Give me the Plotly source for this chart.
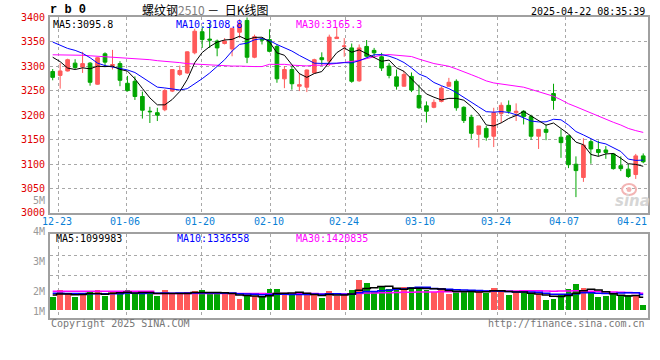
import plotly.graph_objects as go
import pandas as pd

# ---------------- data ----------------
dates = ["12-20", "12-23", "12-24", "12-25", "12-26", "12-27", "12-30", "12-31",
         "01-02", "01-03", "01-06", "01-07", "01-08", "01-09", "01-10", "01-13",
         "01-14", "01-15", "01-16", "01-17", "01-20", "01-21", "01-22", "01-23",
         "01-24", "01-27", "02-05", "02-06", "02-07", "02-10", "02-11", "02-12",
         "02-13", "02-14", "02-17", "02-18", "02-19", "02-20", "02-21", "02-24",
         "02-25", "02-26", "02-27", "02-28", "03-03", "03-04", "03-05", "03-06",
         "03-07", "03-10", "03-11", "03-12", "03-13", "03-14", "03-17", "03-18",
         "03-19", "03-20", "03-21", "03-24", "03-25", "03-26", "03-27", "03-28",
         "03-31", "04-01", "04-02", "04-03", "04-07", "04-08", "04-09", "04-10",
         "04-11", "04-14", "04-15", "04-16", "04-17", "04-18", "04-21", "04-22"]

opens = [3289, 3281, 3290, 3306, 3298, 3306, 3263, 3325, 3301, 3305,
         3265, 3269, 3238, 3208, 3205, 3211, 3249, 3283, 3286, 3327,
         3370, 3355, 3351, 3346, 3335, 3369, 3393, 3318, 3355, 3354,
         3340, 3274, 3293, 3259, 3257, 3286, 3317, 3310, 3356, 3340,
         3337, 3270, 3340, 3332, 3319, 3300, 3278, 3259, 3279, 3240,
         3219, 3216, 3228, 3259, 3269, 3216, 3196, 3161, 3173, 3157,
         3203, 3220, 3205, 3208, 3197, 3157, 3171, 3244, 3155, 3158,
         3100, 3073, 3146, 3130, 3129, 3121, 3097, 3090, 3079, 3117]
highs = [3294, 3306, 3315, 3314, 3329, 3308, 3318, 3328, 3333, 3310,
         3280, 3279, 3248, 3217, 3215, 3253, 3294, 3301, 3330, 3376,
         3381, 3388, 3354, 3357, 3377, 3395, 3399, 3364, 3357, 3375,
         3344, 3300, 3300, 3286, 3293, 3315, 3328, 3364, 3378, 3357,
         3346, 3344, 3353, 3337, 3327, 3306, 3293, 3290, 3287, 3262,
         3228, 3232, 3259, 3276, 3273, 3218, 3201, 3178, 3178, 3215,
         3226, 3230, 3224, 3210, 3201, 3171, 3181, 3264, 3171, 3158,
         3116, 3153, 3150, 3148, 3137, 3123, 3116, 3100, 3121, 3122]
lows = [3271, 3254, 3289, 3294, 3286, 3260, 3262, 3299, 3293, 3259,
        3248, 3231, 3193, 3184, 3188, 3208, 3247, 3280, 3284, 3324,
        3337, 3337, 3320, 3344, 3320, 3357, 3306, 3316, 3344, 3328,
        3266, 3255, 3252, 3249, 3247, 3285, 3301, 3300, 3356, 3319,
        3266, 3268, 3318, 3317, 3290, 3275, 3252, 3258, 3247, 3213,
        3185, 3214, 3226, 3258, 3209, 3184, 3152, 3134, 3148, 3135,
        3184, 3203, 3188, 3181, 3150, 3131, 3149, 3211, 3113, 3092,
        3033, 3064, 3101, 3116, 3111, 3089, 3086, 3072, 3070, 3102]
closes = [3277, 3290, 3313, 3297, 3305, 3267, 3317, 3308, 3303, 3271,
          3250, 3238, 3210, 3207, 3200, 3250, 3293, 3291, 3329, 3371,
          3354, 3353, 3337, 3351, 3377, 3386, 3318, 3360, 3353, 3330,
          3274, 3293, 3264, 3262, 3292, 3313, 3313, 3359, 3359, 3341,
          3269, 3337, 3320, 3327, 3296, 3281, 3259, 3283, 3251, 3215,
          3208, 3226, 3255, 3267, 3215, 3189, 3163, 3178, 3155, 3205,
          3220, 3208, 3208, 3197, 3157, 3171, 3165, 3230, 3144, 3099,
          3087, 3139, 3131, 3124, 3124, 3091, 3091, 3075, 3117, 3105]
volumes = [1072000, 1636000, 1427000, 1072000, 1346000, 1475000, 1636000, 1153000, 1475000, 1531000,
           1636000, 1346000, 1346000, 1475000, 1153000, 1636000, 1346000, 1346000, 1475000, 1556000,
           1636000, 1346000, 1346000, 1346000, 1346000, 943000, 1153000, 1153000, 1072000, 1773000,
           1773000, 1346000, 1209000, 1346000, 1370000, 1290000, 967000, 1556000, 1153000, 1370000,
           1693000, 2499000, 2257000, 1475000, 1910000, 1773000, 1636000, 1910000, 1910000, 1910000,
           1636000, 1531000, 1854000, 1290000, 1531000, 1531000, 1531000, 1693000, 1427000, 1854000,
           1612000, 1209000, 1427000, 1427000, 1427000, 1290000, 830000, 887000, 1370000, 1773000,
           2176000, 1854000, 1475000, 1072000, 1128000, 1300000, 1250000, 1250000, 1250000, 450000]

ma5_head = [3318, 3309, 3296, 3293]
ma10_head = [3349, 3343, 3336, 3332, 3326, 3317, 3306, 3301, 3298]
ma30_head = [3323, 3323, 3322, 3322, 3322, 3321, 3320, 3320, 3319, 3318,
             3317, 3316, 3315, 3313, 3311, 3310, 3309, 3307, 3305, 3304,
             3303, 3302, 3301, 3301, 3300, 3300, 3299, 3299, 3299]
vma5_head = [1280000, 1350000, 1350000, 1300000]
vma10_head = [1420000, 1420000, 1400000, 1400000, 1390000, 1380000, 1380000, 1370000, 1370000]
vma30_head = [1570000] * 14 + [1400000] * 15

tick_dates = ["12-23", "01-06", "01-20", "02-10", "02-24", "03-10", "03-24", "04-07", "04-21"]
price_ticks = [3400, 3350, 3300, 3250, 3200, 3150, 3100, 3050, 3000]
vol_labels = ["4M", "3M", "2M", "1M"]

ma_labels = ["MA5:3095.8", "MA10:3108.8", "MA30:3165.3"]
vma_labels = ["MA5:1099983", "MA10:1336558", "MA30:1420835"]

# ---------------- derived ----------------
n = len(closes)
idx = list(range(n))
cs = pd.Series(closes, dtype=float)
vs = pd.Series(volumes, dtype=float)


def with_head(series, win, head):
    m = series.rolling(win).mean()
    for i, v in enumerate(head):
        m.iloc[i] = v
    return m


ma5 = with_head(cs, 5, ma5_head)
ma10 = with_head(cs, 10, ma10_head)
ma30 = with_head(cs, 30, ma30_head)
vma5 = with_head(vs, 5, vma5_head)
vma10 = with_head(vs, 10, vma10_head)
vma30 = with_head(vs, 30, vma30_head)

RED = "#ff5a5a"
GREEN = "#00a600"
GRID = "#a8a8a8"
AXIS = "#a0a0a0"
vol_colors = [RED if c > o else GREEN for o, c in zip(opens, closes)]

# ---------------- geometry ----------------
W, H = 660, 360
ML, MR, MT, MB = 50, 10, 17, 42
PW, PH = W - ML - MR, H - MT - MB


def fx(px):
    return (px - ML) / PW


def fy(py):
    return (H - MB - py) / PH


# candle i centre at pixel 52.7 + 7.5*i
x0 = -(52.7 - ML) / 7.5
x_range = [x0, x0 + PW / 7.5]
tick_pos = [dates.index(d) for d in tick_dates]
grid_u = [(50.5 + 7.6 * k - 52.7) / 7.5 for k in tick_pos[:-1]]

price_dom = [fy(213.3), 1.0]
vol_dom = [0.0, fy(234.3)]
VPX = 12.4 / 1e6  # pixels per lot
vol_range = [-(318.3 - 311) / VPX, (311 - 234.3) / VPX]
vgrid = [(311 - 256) / VPX, (311 - 276) / VPX]

fig = go.Figure()
fig.add_trace(go.Candlestick(
    x=idx, open=opens, high=highs, low=lows, close=closes,
    increasing=dict(line=dict(color=RED, width=1), fillcolor=RED),
    decreasing=dict(line=dict(color=GREEN, width=1), fillcolor=GREEN),
    whiskerwidth=0, xaxis="x", yaxis="y", showlegend=False, hoverinfo="skip"))
for m, col in [(ma30, "#ff00ff"), (ma10, "#0000ff"), (ma5, "#000000")]:
    fig.add_trace(go.Scatter(x=idx, y=m, mode="lines", line=dict(color=col, width=1),
                             xaxis="x", yaxis="y", showlegend=False, hoverinfo="skip"))

fig.add_trace(go.Bar(x=idx, y=volumes, marker=dict(color=vol_colors, line=dict(width=0)),
                     width=0.78, xaxis="x2", yaxis="y2", showlegend=False, hoverinfo="skip"))
for m, col in [(vma30, "#ff00ff"), (vma10, "#0000ff"), (vma5, "#000000")]:
    fig.add_trace(go.Scatter(x=idx, y=m, mode="lines", line=dict(color=col, width=1.5, shape="hvh"),
                             xaxis="x2", yaxis="y2", showlegend=False, hoverinfo="skip"))

axis_common = dict(showline=True, linecolor=AXIS, linewidth=2, mirror=True, zeroline=False,
                   showgrid=True, gridcolor=GRID, griddash="dot", gridwidth=1,
                   showticklabels=False, ticks="", fixedrange=True)

fig.update_layout(
    width=W, height=H, margin=dict(l=ML, r=MR, t=MT, b=MB),
    paper_bgcolor="white", plot_bgcolor="white", showlegend=False,
    xaxis=dict(domain=[0, 1], range=x_range, anchor="y", tickmode="array", tickvals=grid_u,
               rangeslider=dict(visible=False), **axis_common),
    yaxis=dict(domain=price_dom, range=[3000, 3400], anchor="x", tickmode="array",
               tickvals=price_ticks[1:-1], **axis_common),
    xaxis2=dict(domain=[0, 1], range=x_range, anchor="y2", tickmode="array", tickvals=grid_u,
                **axis_common),
    yaxis2=dict(domain=vol_dom, range=vol_range, anchor="x2", tickmode="array",
                tickvals=vgrid, **axis_common),
    bargap=0,
)

MONO = "DejaVu Sans Mono"
ann = []


def add_text(text, px, py, color="#000", size=10, xanchor="left", family=MONO, **kw):
    ann.append(dict(text=text, x=fx(px), y=fy(py), xref="paper", yref="paper",
                    xanchor=xanchor, yanchor="middle", showarrow=False,
                    font=dict(family=family, size=size, color=color), **kw))


# header
add_text("<b>r b 0</b>", 48, 10, size=12, family="Liberation Mono")
add_text("螺纹钢<span style='color:#808080'>2510</span> －  日K线图", 206, 10, size=12,
         xanchor="center", family="Noto Sans CJK SC")
add_text("2025-04-22 08:35:39", 649, 11.5, size=10, xanchor="right")

# MA labels
for t, c, x in zip(ma_labels, ["#000000", "#0000ff", "#ff00ff"], [51, 174.5, 295]):
    add_text(t, x, 24, color=c, size=10)
for t, c, x in zip(vma_labels, ["#000000", "#0000ff", "#ff00ff"], [54.5, 175, 295]):
    add_text(t, x, 238.5, color=c, size=10)

# price axis labels
for p in price_ticks:
    yy = 213.3 - (p - 3000) * 0.49
    yy = max(min(yy, 212.5), 16.2)
    add_text(str(p), 46.5, yy, color="#e00000", size=10, xanchor="right")
add_text("5M", 46.5, 200, color="#999999", size=10, xanchor="right")
for t, yy in zip(vol_labels, [231, 261, 291, 311]):
    add_text(t, 46.5, yy, color="#999999", size=10, xanchor="right")

# date labels
for d, k in zip(tick_dates, tick_pos):
    gx = 50.5 + 7.6 * k - 1.5
    if d == tick_dates[-1]:
        gx = 634
    add_text(d, gx, 221.5, color="#0a7fd6", size=10, xanchor="center")

# footer
add_text("Copyright 2025 SINA.COM", 49, 323, color="#777777", size=10)
add_text("http://finance.sina.com.cn", 649, 323, color="#777777", size=10, xanchor="right")
# watermark word + eye logo drawn as shapes
add_text("<b><i>sina</i></b>", 634, 201, color="#d6d6d6", size=15, xanchor="center",
         family="DejaVu Sans")
shapes = [
    dict(type="circle", xref="paper", yref="paper", x0=fx(624), x1=fx(638), y0=fy(195), y1=fy(184),
         line=dict(color="#f3b4b4", width=2), fillcolor="rgba(0,0,0,0)"),
    dict(type="circle", xref="paper", yref="paper", x0=fx(628.5), x1=fx(633.5), y0=fy(192), y1=fy(187),
         line=dict(width=0), fillcolor="#f3b4b4"),
]

fig.update_layout(annotations=ann, shapes=shapes)
fig.write_html("out.html", config={"displayModeBar": False},
               post_script="document.body.style.margin='0';document.body.style.padding='0';")
